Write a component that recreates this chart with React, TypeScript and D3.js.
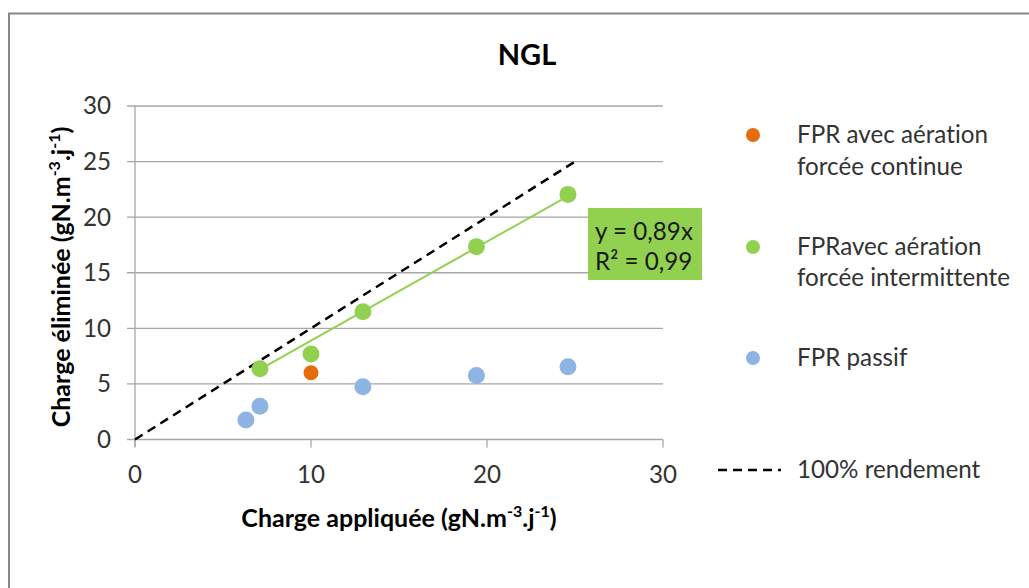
import React from "react";
import * as d3 from "d3";

// ---- data ----
const xTicks = [0, 10, 20, 30];
const yTicks = [0, 5, 10, 15, 20, 25, 30];

const continueX = [10.0];
const continueY = [6.0];

const intermittentX = [7.1, 10.0, 12.95, 19.4, 24.6];
const intermittentY = [6.37, 7.7, 11.5, 17.35, 22.05];

const passifX = [6.3, 7.1, 12.95, 19.4, 24.6];
const passifY = [1.75, 3.0, 4.75, 5.75, 6.55];

const trendSlope = 0.89;
const trendR2 = 0.99;
const refLineX = [0, 25];

const legendLabels = [
  ["FPR avec aération", "forcée continue"],
  ["FPRavec aération", "forcée intermittente"],
  ["FPR passif"],
  ["100% rendement"],
];

const W = 1029;
const H = 588;
const FONT = "Lato, 'Open Sans', sans-serif";

export default function App() {
  const x = d3.scaleLinear().domain([0, 30]).range([135, 663]);
  const y = d3.scaleLinear().domain([0, 30]).range([439.5, 106]);

  const line = d3
    .line<[number, number]>()
    .x((d) => x(d[0]))
    .y((d) => y(d[1]));

  const xMin = d3.min(intermittentX) as number;
  const xMax = d3.max(intermittentX) as number;
  const trendPts: [number, number][] = [
    [xMin, trendSlope * xMin],
    [xMax, trendSlope * xMax],
  ];
  const refPts: [number, number][] = refLineX.map((v) => [v, v]);

  const orange = "#E46C0A";
  const green = "#92D050";
  const blue = "#8DB4E2";
  const grid = "#A6A6A6";
  const textCol = "#333333";

  const fmt = (v: number) => String(v).replace(".", ",");
  const LS = 24.2; // legend / tick font size

  return (
    <svg
      width={W}
      height={H}
      style={{ position: "absolute", left: 0, top: 0, background: "#fff", fontVariantLigatures: "none" }}
      fontFamily={FONT}
    >
      <rect x={0} y={0} width={W} height={H} fill="#fff" />
      {/* chart border */}
      <rect x={9} y={13.5} width={1100} height={1000} fill="none" stroke="#878787" strokeWidth={2} />

      {/* title */}
      <text x={527} y={65} textAnchor="middle" fontWeight="bold" fontSize={29} fill="#000">
        NGL
      </text>

      {/* gridlines */}
      {yTicks.map((t) => (
        <line key={"g" + t} x1={127} x2={x(30)} y1={y(t)} y2={y(t)} stroke={grid} strokeWidth={1.3} />
      ))}
      {/* y axis line */}
      <line x1={x(0)} x2={x(0)} y1={y(30)} y2={y(0) + 7} stroke={grid} strokeWidth={1.3} />
      {/* x ticks */}
      {xTicks.map((t) => (
        <line key={"xt" + t} x1={x(t)} x2={x(t)} y1={y(0)} y2={y(0) + 8} stroke={grid} strokeWidth={1.3} />
      ))}

      {/* y tick labels */}
      {yTicks.map((t) => (
        <text key={"yl" + t} x={111} y={y(t)} dy="0.35em" textAnchor="end" fontSize={LS} fill={textCol}>
          {t}
        </text>
      ))}
      {/* x tick labels */}
      {xTicks.map((t) => (
        <text key={"xl" + t} x={x(t)} y={475} dy="0.35em" textAnchor="middle" fontSize={LS} fill={textCol}>
          {t}
        </text>
      ))}

      {/* axis titles */}
      <text x={x(15)} y={527} textAnchor="middle" fontWeight="bold" fontSize={25} fill="#000">
        Charge appliquée (gN.m
        <tspan fontSize={16} dy={-10}>-3</tspan>
        <tspan dy={10}>.j</tspan>
        <tspan fontSize={16} dy={-10}>-1</tspan>
        <tspan dy={10}>)</tspan>
      </text>
      <text
        transform={`translate(70,${277}) rotate(-90)`}
        textAnchor="middle"
        fontWeight="bold"
        fontSize={25}
        fill="#000"
      >
        Charge éliminée (gN.m
        <tspan fontSize={16} dy={-10}>-3</tspan>
        <tspan dy={10}>.j</tspan>
        <tspan fontSize={16} dy={-10}>-1</tspan>
        <tspan dy={10}>)</tspan>
      </text>

      {/* 100% line */}
      <path d={line(refPts) || ""} fill="none" stroke="#000" strokeWidth={2.5} strokeDasharray="9,6" />
      {/* trendline */}
      <path d={line(trendPts) || ""} fill="none" stroke={green} strokeWidth={2} />

      {/* points */}
      {continueX.map((v, i) => (
        <circle key={"o" + i} cx={x(v)} cy={y(continueY[i])} r={7.5} fill={orange} />
      ))}
      {intermittentX.map((v, i) => (
        <circle key={"gr" + i} cx={x(v)} cy={y(intermittentY[i])} r={8.5} fill={green} />
      ))}
      {passifX.map((v, i) => (
        <circle key={"b" + i} cx={x(v)} cy={y(passifY[i])} r={8.5} fill={blue} />
      ))}

      {/* equation label */}
      <rect x={588} y={208} width={114} height={72} fill={green} />
      <text x={595} y={232} dy="0.35em" fontSize={LS} fill="#1a1a1a">
        y = {fmt(trendSlope)}x
      </text>
      <text x={595} y={262} dy="0.35em" fontSize={LS} fill="#1a1a1a">
        R² = {fmt(trendR2)}
      </text>

      {/* legend */}
      <circle cx={753} cy={135} r={7} fill={orange} />
      <text x={797} y={135} dy="0.35em" fontSize={LS} fill={textCol}>{legendLabels[0][0]}</text>
      <text x={797} y={167} dy="0.35em" fontSize={LS} fill={textCol}>{legendLabels[0][1]}</text>

      <circle cx={753} cy={247} r={7} fill={green} />
      <text x={797} y={247} dy="0.35em" fontSize={LS} fill={textCol}>{legendLabels[1][0]}</text>
      <text x={797} y={278} dy="0.35em" fontSize={LS} fill={textCol}>{legendLabels[1][1]}</text>

      <circle cx={753} cy={358} r={7} fill={blue} />
      <text x={797} y={358} dy="0.35em" fontSize={LS} fill={textCol}>{legendLabels[2][0]}</text>

      <line x1={718} x2={781} y1={470} y2={470} stroke="#000" strokeWidth={2.5} strokeDasharray="9,6" />
      <text x={797} y={470} dy="0.35em" fontSize={LS} fill={textCol}>{legendLabels[3][0]}</text>
    </svg>
  );
}
